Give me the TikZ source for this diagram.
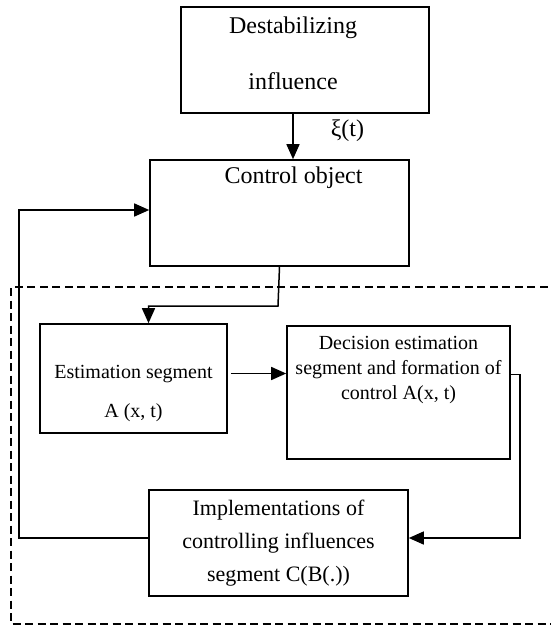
\documentclass[tikz,border=0pt]{standalone}
\usepackage{fontspec}
\setmainfont{Liberation Serif}
\usetikzlibrary{arrows.meta}

\begin{document}
\begin{tikzpicture}[x=1pt, y=-1pt,
	box/.style={draw, line width=1.6pt, inner sep=0pt, align=center},
	flow/.style={line width=1.5pt, -{Triangle[length=15pt, width=13pt]}},
	frame/.style={line width=1.3pt, dash pattern=on 8pt off 4.5pt},
	big/.style={font=\fontsize{24}{56}\selectfont},
	mid/.style={font=\fontsize{22}{33}\selectfont},
	small/.style={font=\fontsize{20}{25}\selectfont},
	lbl/.style={inner sep=0pt, align=center, anchor=center}
]
	\useasboundingbox (0,0) rectangle (550,625);
	% blocks
	\node[box, minimum width=248, minimum height=106,
		label={[lbl, big, xshift=-12, yshift=7]center:Destabilizing\\influence}] (dest) at (305,60) {};
	\node[box, minimum width=259, minimum height=106,
		label={[lbl, big, xshift=14, yshift=-19]north:Control object}] (ctrl) at (279.5,213) {};
	\node[box, minimum width=187, minimum height=109,
		label={[lbl, font=\fontsize{20}{39}\selectfont, yshift=-15]center:Estimation segment\\A (x, t)}] (est) at (133.5,378.5) {};
	\node[box, minimum width=223, minimum height=133,
		label={[lbl, small, yshift=-45]north:Decision estimation\\segment and formation of\\control A(x, t)}] (dec) at (398.5,392.5) {};
	\node[box, mid, minimum width=259, minimum height=106] (impl) at (278.5,543) {Implementations of\\controlling influences\\segment C(B(.))};
	\coordinate (split) at (278,306);
	\coordinate (back) at (19,375);
	% regulator boundary
	\draw[frame] (560,287) -- (11,287) -- (11,624) -- (560,624);
	% connections
	\draw[flow] ([xshift=-12]dest.south) -- ([xshift=-12]dest.south |- ctrl.north)
		node[midway, right=37pt, yshift=6pt, inner sep=0pt, font=\fontsize{24}{24}\selectfont] {ξ(t)};
	\draw[flow] (ctrl.south) -- (split) -| ([xshift=15]est.north);
	\draw[flow] ([xshift=3, yshift=5]est.east) -- ([yshift=5]est.east -| dec.west);
	\draw[flow] ([yshift=18]dec.east) -- ++(9,0) |- ([yshift=5]impl.east);
	\draw[flow] ([yshift=5]impl.west) -| (back) |- ([yshift=3]ctrl.west);
\end{tikzpicture}
\end{document}
